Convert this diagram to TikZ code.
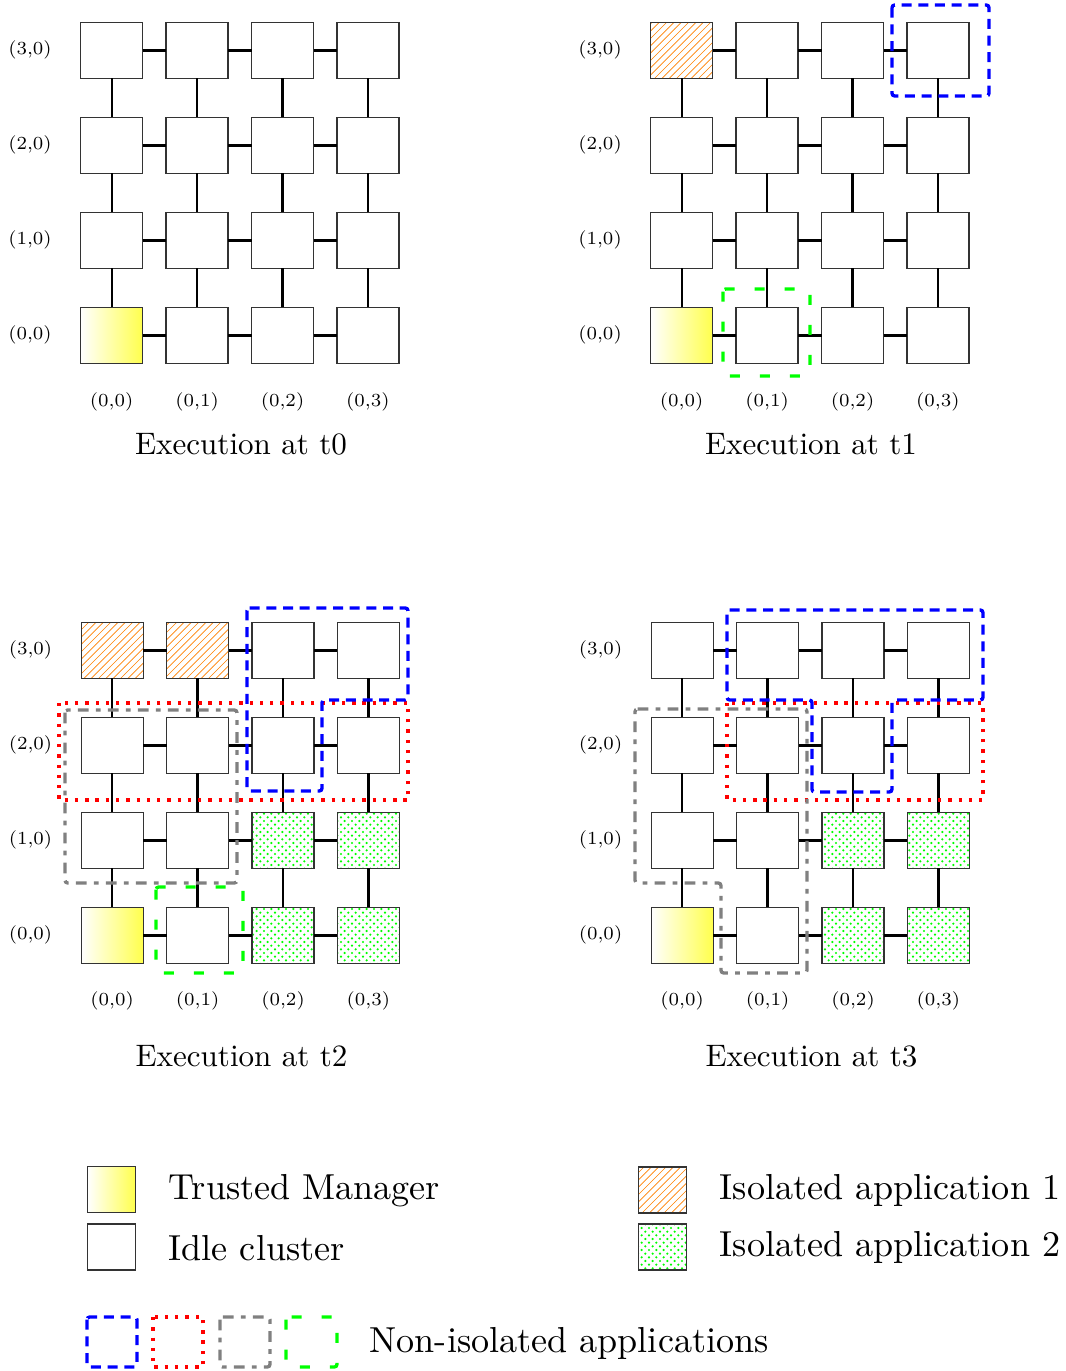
\documentclass[tikz,border=0pt]{standalone}
\usetikzlibrary{patterns}
\pgfdeclarepatternformonly{bigNE}{\pgfqpoint{-1pt}{-1pt}}{\pgfqpoint{6.5pt}{6.5pt}}{\pgfqpoint{5.5pt}{5.5pt}}{%
  \pgfsetlinewidth{0.5pt}%
  \pgfpathmoveto{\pgfqpoint{0pt}{0pt}}%
  \pgfpathlineto{\pgfqpoint{5.6pt}{5.6pt}}%
  \pgfusepath{stroke}}
\pgfdeclarepatternformonly{bigdots}{\pgfqpoint{-1pt}{-1pt}}{\pgfqpoint{6.5pt}{6.5pt}}{\pgfqpoint{5.5pt}{5.5pt}}{%
  \pgfpathcircle{\pgfqpoint{0pt}{0pt}}{0.9pt}%
  \pgfpathcircle{\pgfqpoint{2.75pt}{2.75pt}}{0.9pt}%
  \pgfusepath{fill}}
\tikzset{
  cell/.style={draw=black!80, line width=1pt, fill=white, minimum width=46.5pt, minimum height=42.2pt, inner sep=0pt, outer sep=0pt},
  legcell/.style={cell, minimum width=36pt, minimum height=34.5pt},
  tm/.style={left color=white, right color=yellow!70},
  iso1/.style={pattern=bigNE, pattern color=orange},
  iso2/.style={pattern=bigdots, pattern color=green},
  cs/.code={\pgfkeysifdefined{/tikz/s#1/.@cmd}{\tikzset{s#1}}{}},
  s000/.style=tm,
  s100/.style=tm, s130/.style=iso1,
  s200/.style=tm, s230/.style=iso1, s231/.style=iso1,
  s212/.style=iso2, s213/.style=iso2, s202/.style=iso2, s203/.style=iso2,
  s300/.style=tm,
  s312/.style=iso2, s313/.style=iso2, s302/.style=iso2, s303/.style=iso2,
  link/.style={line width=1.8pt, black},
  appA/.style={blue, line width=2.5pt, dash pattern=on 7.5pt off 5pt, rounded corners=2pt},
  appB/.style={red, line width=2.5pt, dash pattern=on 2.5pt off 5.2pt},
  appC/.style={gray, line width=2.5pt, dash pattern=on 8pt off 5.5pt on 3.5pt off 5.5pt, rounded corners=2pt},
  appD/.style={green, line width=2.5pt, dash pattern=on 7.5pt off 15pt, rounded corners=2pt},
  lbl/.style={font=\fontsize{7}{8}\selectfont, scale=1.98, transform shape, inner sep=0pt},
  ttl/.style={font=\fontsize{10}{12}\selectfont, scale=2.33, transform shape, inner sep=0pt, anchor=base},
  leg/.style={font=\fontsize{10}{12}\selectfont, scale=2.71, transform shape, inner sep=0pt, anchor=base west},
}
\begin{document}
\begin{tikzpicture}[x=0.75pt,y=-0.75pt]
\useasboundingbox (0,0) rectangle (1065,1371);
\foreach \g/\ox/\oy/\cy/\ty in {0/0/0/402/454, 1/570/0/402/454, 2/0.5/600/1001/1066, 3/570.5/600/1001/1066} {
  % cells
  \foreach \r in {0,...,3} {
    \foreach \c in {0,...,3} {
      \node[cell, cs=\g\r\c] (g\g-\r-\c) at ({111.7+\ox+85.4*\c},{50.3+\oy+95*(3-\r)}) {};
    }
    \node[lbl] (rl\g-\r) at ({30+\ox},{50.3+\oy+95*(3-\r)}) {(\r,0)};
  }
  \foreach \c in {0,...,3} {
    \node[lbl] (cl\g-\c) at ({111.7+\ox+85.4*\c},\cy) {(0,\c)};
  }
  \node[ttl] (title\g) at ({241+\ox},\ty) {Execution at t\g};
  % links
  \foreach \r in {0,...,3} {
    \foreach \c [evaluate=\c as \n using int(\c+1)] in {0,1,2} {
      \draw[link] (g\g-\r-\c) -- (g\g-\r-\n);
    }
  }
  \foreach \c in {0,...,3} {
    \foreach \r [evaluate=\r as \n using int(\r+1)] in {0,1,2} {
      \draw[link] (g\g-\r-\c) -- (g\g-\n-\c);
    }
  }
}
% non-isolated applications at t1
\draw[appA] (892,5) rectangle (989,96);
\draw[appD] (723,289) rectangle (810,376);
% at t2
\draw[appB] (59,703) rectangle (408,800);
\draw[appC] (65,710) rectangle (237,883);
\draw[appA] (247,608) -- (408,608) -- (408,700) -- (322,700) -- (322,791) -- (247,791) -- cycle;
\draw[appD] (156,887) rectangle (243,973);
% at t3
\draw[appB] (727,703) rectangle (983,800);
\draw[appC] (635,709) -- (807,709) -- (807,973) -- (721,973) -- (721,883) -- (635,883) -- cycle;
\draw[appA] (727,610) -- (983,610) -- (983,700) -- (892,700) -- (892,792) -- (812,792) -- (812,700) -- (727,700) -- cycle;
% legend
\node[legcell, tm] (legTM) at (111.5,1189.5) {};
\node[legcell] (legIdle) at (111.5,1247) {};
\node[legcell, iso1] (legI1) at (662.5,1190) {};
\node[legcell, iso2] (legI2) at (662.5,1247) {};
\node[leg] (txtTM) at (168,1199) {Trusted Manager};
\node[leg] (txtIdle) at (168,1260) {Idle cluster};
\node[leg] (txtI1) at (719,1199) {Isolated application 1};
\node[leg] (txtI2) at (719,1256) {Isolated application 2};
\draw[appA] (87,1317) rectangle (137,1367);
\draw[appB] (153,1317) rectangle (203,1367);
\draw[appC] (220,1317) rectangle (270,1367);
\draw[appD] (286,1317) rectangle (337,1367);
\node[leg] (txtNI) at (369,1352) {Non-isolated applications};
\end{tikzpicture}
\end{document}
